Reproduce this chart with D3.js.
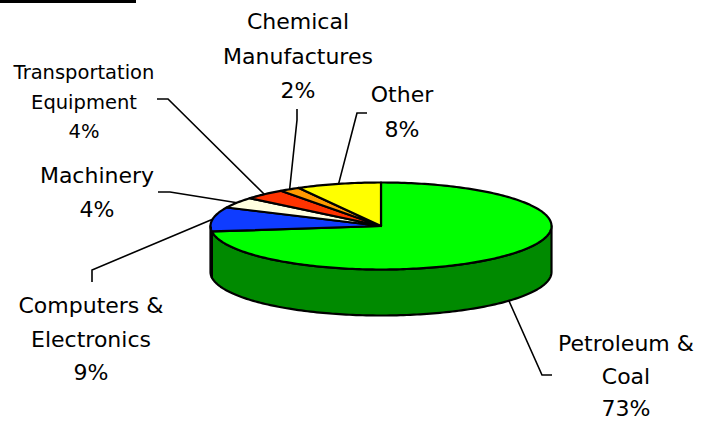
<!DOCTYPE html>
<html>
<head>
<meta charset="utf-8">
<script src="https://cdn.jsdelivr.net/npm/d3@7"></script>
<style>
  html, body { margin: 0; padding: 0; background: #fff; }
  svg { display: block; }
  text { font-family: "DejaVu Sans", Verdana, sans-serif; fill: #000; }
</style>
</head>
<body>
<div id="chart"></div>
<script>
// data
const categories = ["Petroleum & Coal", "Computers & Electronics", "Machinery",
                    "Transportation Equipment", "Chemical Manufactures", "Other"];
const values = [73, 9, 4, 4, 2, 8];
const topColors = ["#00ff00", "#0f3cff", "#ffffe0", "#ff3300", "#ff9900", "#ffff00"];
const sideColors = ["#008a00", "#08208a", "#8a8a70", "#8a1a00", "#8a5200", "#8a8a00"];
const labelLines = [
  ["Petroleum &", "Coal", "73%"],
  ["Computers &", "Electronics", "9%"],
  ["Machinery", "4%"],
  ["Transportation", "Equipment", "4%"],
  ["Chemical", "Manufactures", "2%"],
  ["Other", "8%"]
];

// layout for labels: centre x, first baseline, line step, font size, leader elbow points
const labelLayout = [
  { x: 626, y: 351, step: 32.5, size: 22, elbow: [[542, 375], [552, 375]], wall: true },
  { x: 91,  y: 313, step: 33.5, size: 22, elbow: [[92, 270], [92, 282]] },
  { x: 97,  y: 183, step: 34, size: 22, elbow: [[170, 192], [158, 192]] },
  { x: 84,  y: 79,  step: 29.5, size: 19.5, elbow: [[168, 99], [157, 99]] },
  { x: 298, y: 29,  step: 34.5, size: 22, elbow: [[297, 120], [297, 109]] },
  { x: 402, y: 102, step: 35, size: 22, elbow: [[357, 113], [367, 113]] }
];

const width = 708, height = 421;
const cx = 381, cy = 226, rx = 170.5, ry = 43.5, depth = 46;

const svg = d3.select("#chart").append("svg")
  .attr("width", width)
  .attr("height", height);

// thin bar top left
svg.append("rect").attr("x", 0).attr("y", 0).attr("width", 136).attr("height", 3).attr("fill", "#000");

const pie = d3.pie().sort(null).startAngle(0).endAngle(2 * Math.PI);
const arcs = pie(values);

// projection of an angle (clockwise from 12 o'clock) onto the tilted ellipse
const px = a => cx + rx * Math.sin(a);
const py = a => cy - ry * Math.cos(a);

function sample(a0, a1) {
  const n = Math.max(2, Math.ceil(Math.abs(a1 - a0) / 0.02));
  return d3.range(n + 1).map(i => a0 + (a1 - a0) * i / n);
}

const line = d3.line();

// outer walls (only the front half is visible)
const wallG = svg.append("g");
arcs.forEach((d, i) => {
  const a0 = Math.max(d.startAngle, Math.PI / 2);
  const a1 = Math.min(d.endAngle, 3 * Math.PI / 2);
  if (a1 <= a0) return;
  const angs = sample(a0, a1);
  const topPts = angs.map(a => [px(a), py(a)]);
  const botPts = angs.slice().reverse().map(a => [px(a), py(a) + depth]);
  wallG.append("path")
    .attr("d", line(topPts.concat(botPts)) + "Z")
    .attr("fill", sideColors[i])
    .attr("stroke", "#000")
    .attr("stroke-width", 2.2)
    .attr("stroke-linejoin", "round");
});

// top faces
const topG = svg.append("g");
arcs.forEach((d, i) => {
  const pts = [[cx, cy]].concat(sample(d.startAngle, d.endAngle).map(a => [px(a), py(a)]));
  topG.append("path")
    .attr("d", line(pts) + "Z")
    .attr("fill", topColors[i])
    .attr("stroke", "#000")
    .attr("stroke-width", 2.2)
    .attr("stroke-linejoin", "round");
});

// leader lines
const leadG = svg.append("g");
arcs.forEach((d, i) => {
  const L = labelLayout[i];
  const mid = (d.startAngle + d.endAngle) / 2;
  const start = [px(mid), py(mid) + (L.wall ? depth : 0)];
  leadG.append("path")
    .attr("d", line([start].concat(L.elbow)))
    .attr("fill", "none")
    .attr("stroke", "#000")
    .attr("stroke-width", 1.6);
});

// labels
const labG = svg.append("g");
labelLines.forEach((lines, i) => {
  const L = labelLayout[i];
  const t = labG.append("text")
    .attr("text-anchor", "middle")
    .attr("font-size", L.size);
  lines.forEach((s, j) => {
    t.append("tspan").attr("x", L.x).attr("y", L.y + j * L.step).text(s);
  });
});
</script>
</body>
</html>
